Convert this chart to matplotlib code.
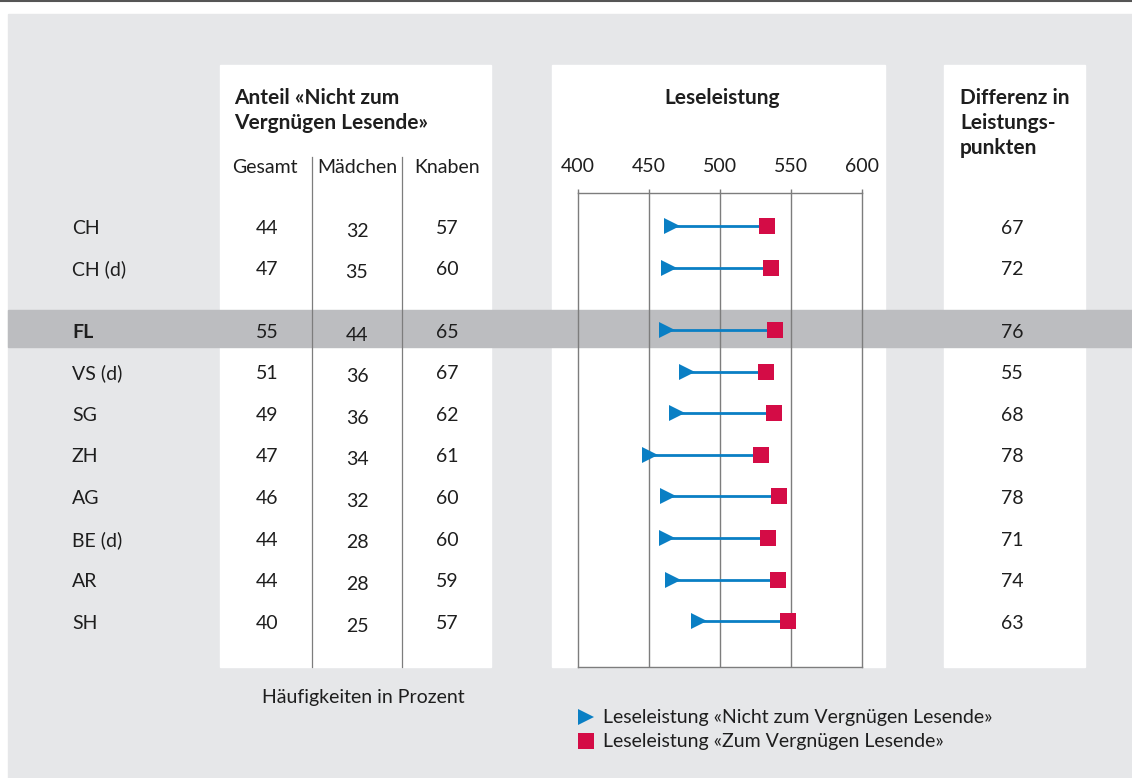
## -- Lesefreude und Leseleistung: Kantone -- ##
import numpy as np
import matplotlib
matplotlib.use("Agg")
import matplotlib.pyplot as plt
from matplotlib.patches import Rectangle

##################################
## ---- Data                 ----##
##################################

regions   = ["CH", "CH (d)", "FL", "VS (d)", "SG", "ZH", "AG", "BE (d)", "AR", "SH"]
gesamt    = [44, 47, 55, 51, 49, 47, 46, 44, 44, 40]
maedchen  = [32, 35, 44, 36, 36, 34, 32, 28, 28, 25]
knaben    = [57, 60, 65, 67, 62, 61, 60, 60, 59, 57]
nicht_vergn = [466, 464, 463, 477, 470, 451, 463.5, 462.5, 467, 485]   # triangles
zum_vergn   = [533, 536, 539, 532, 538, 529, 541.5, 534, 541, 548]     # squares
differenz = [67, 72, 76, 55, 68, 78, 78, 71, 74, 63]
row_pos   = [0, 1, 2.5, 3.5, 4.5, 5.5, 6.5, 7.5, 8.5, 9.5]   # extra gap before FL
x_ticks   = [400, 450, 500, 550, 600]

##################################
## ---- Style                ----##
##################################

W, H = 1132, 778
BG_GREY   = "#e6e7e9"
BAND_GREY = "#bcbdc0"
BLUE      = "#0a7fc4"
RED       = "#d40c46"
TXT       = "#1e1e1e"
LINE      = "#7d7d7d"
FONT      = ["Lato", "DejaVu Sans"]
FS        = 14
FS_HEAD   = 15

plt.rcParams["font.family"] = FONT

ROW0, ROWH = 228, 41.6     # pixel y of first row, pixels per row slot
def row_y(p):
    return ROW0 + p * ROWH

fig = plt.figure(figsize=(W / 100, H / 100), dpi=100)

##################################
## ---- Background / panels  ----##
##################################

bg = fig.add_axes([0, 0, 1, 1])
bg.set_xlim(0, W)
bg.set_ylim(H, 0)
bg.axis("off")

bg.add_patch(Rectangle((8, 14), W - 8, H - 14, color=BG_GREY, zorder=0))
bg.plot([0, W], [1, 1], color="#555555", lw=1.5, zorder=1)
for x0, x1 in [(220, 491), (552, 885), (944, 1085)]:
    bg.add_patch(Rectangle((x0, 65), x1 - x0, 667 - 65, color="white", zorder=1))

# highlighted FL band
fl = regions.index("FL")
bg.add_patch(Rectangle((8, 310), W - 8, 37, color=BAND_GREY, zorder=2))

# column dividers in left panel
for xd in [311.5, 401.5]:
    bg.plot([xd, xd], [157, 667], color=LINE, lw=0.9, zorder=3)

##################################
## ---- Headers              ----##
##################################

head = dict(fontsize=FS_HEAD, fontweight="bold", color=TXT, va="center", zorder=4)
bg.text(234, 98, "Anteil «Nicht zum", **head)
bg.text(234, 123, "Vergnügen Lesende»", **head)
bg.text(722, 98, "Leseleistung", ha="center", **head)
for i, s in enumerate(["Differenz in", "Leistungs-", "punkten"]):
    bg.text(960, 98 + 25 * i, s, **head)

for xc, s in [(265, "Gesamt"), (357, "Mädchen"), (447, "Knaben")]:
    bg.text(xc, 167, s, fontsize=FS, color=TXT, ha="center", va="center", zorder=4)

##################################
## ---- Table values         ----##
##################################

for i, r in enumerate(regions):
    y = row_y(row_pos[i])
    bold = "bold" if r == "FL" else "normal"
    bg.text(72, y, r, fontsize=FS, fontweight=bold, color=TXT, va="center", zorder=4)
    bg.text(267, y, str(gesamt[i]), fontsize=FS, color=TXT, ha="center", va="center", zorder=4)
    bg.text(357, y + 3, str(maedchen[i]), fontsize=FS, color=TXT, ha="center", va="center", zorder=4)
    bg.text(447, y, str(knaben[i]), fontsize=FS, color=TXT, ha="center", va="center", zorder=4)
    bg.text(1012, y, str(differenz[i]), fontsize=FS, color=TXT, ha="center", va="center", zorder=4)

bg.text(363, 698, "Häufigkeiten in Prozent", fontsize=FS, color=TXT, ha="center", va="center", zorder=4)

##################################
## ---- Dumbbell chart        ----##
##################################

ax_l, ax_r, ax_t, ax_b = 577.7, 862.3, 193, 667
ax = fig.add_axes([ax_l / W, 1 - ax_b / H, (ax_r - ax_l) / W, (ax_b - ax_t) / H])
ax.patch.set_alpha(0)
ax.set_xlim(400, 600)
ax.set_ylim((ax_b - 226) / ROWH, (ax_t - 226) / ROWH)

for xv in x_ticks[1:-1]:
    ax.axvline(xv, color=LINE, lw=1.0, zorder=1)

for i in range(len(regions)):
    ax.plot([nicht_vergn[i], zum_vergn[i]], [row_pos[i]] * 2, color=BLUE, lw=2.0, zorder=2,
            solid_capstyle="butt")
ax.plot(nicht_vergn, row_pos, ">", color=BLUE, ms=12, mew=0, ls="none", zorder=3)
ax.plot(zum_vergn, row_pos, "s", color=RED, ms=12, mew=0, ls="none", zorder=3)

for sp in ax.spines.values():
    sp.set_color(LINE)
    sp.set_linewidth(1.0)
ax.xaxis.tick_top()
ax.set_xticks(x_ticks)
ax.set_xticklabels([str(t) for t in x_ticks])
ax.tick_params(axis="x", length=3, width=1.0, color=LINE, pad=10, labelsize=FS, labelcolor=TXT)
ax.set_yticks([])

##################################
## ---- Legend               ----##
##################################

bg.plot([586], [717], ">", color=BLUE, ms=11, mew=0, zorder=4)
bg.plot([586], [741], "s", color=RED, ms=11, mew=0, zorder=4)
bg.text(603, 718, "Leseleistung «Nicht zum Vergnügen Lesende»", fontsize=FS, color=TXT, va="center", zorder=4)
bg.text(603, 742, "Leseleistung «Zum Vergnügen Lesende»", fontsize=FS, color=TXT, va="center", zorder=4)

fig.savefig("out.png", dpi=100)
